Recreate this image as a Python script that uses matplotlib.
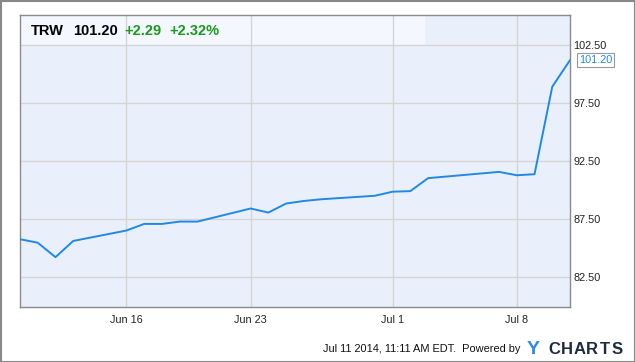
import matplotlib
matplotlib.use("Agg")
import matplotlib.pyplot as plt
from matplotlib.patches import Rectangle
import pandas as pd

plt.rcParams['font.family'] = ['Liberation Sans', 'DejaVu Sans']

dates = ["2014-06-10", "2014-06-11", "2014-06-12", "2014-06-13", "2014-06-16",
         "2014-06-17", "2014-06-18", "2014-06-19", "2014-06-20", "2014-06-23",
         "2014-06-24", "2014-06-25", "2014-06-26", "2014-06-27", "2014-06-30",
         "2014-07-01", "2014-07-02", "2014-07-03", "2014-07-07", "2014-07-08",
         "2014-07-09", "2014-07-10", "2014-07-11"]
prices = [85.75, 85.45, 84.20, 85.60, 86.50,
          87.07, 87.07, 87.27, 87.27, 88.40,
          88.05, 88.83, 89.05, 89.20, 89.50,
          89.85, 89.90, 91.02, 91.56, 91.27,
          91.36, 98.91, 101.20]
ytick_vals = [82.5, 87.5, 92.5, 97.5, 102.5]
xtick_dates = ["2014-06-16", "2014-06-23", "2014-07-01", "2014-07-08"]
xtick_labels = ["Jun 16", "Jun 23", "Jul 1", "Jul 8"]
ticker = "TRW"
last_price = "101.20"
change = "+2.29"
change_pct = "+2.32%"
footer = "Jul 11 2014, 11:11 AM EDT.  Powered by"
logo_rest = "CHARTS"

x = pd.to_datetime(dates)

fig = plt.figure(figsize=(6.35, 3.62), dpi=100)
fig.patch.set_facecolor('white')
ax = fig.add_axes([20/635, 1-307/362, 550/635, 292/362])
ax.set_facecolor('#eaf0fb')

ax.plot(x, prices, color='#1f88e8', lw=1.4, zorder=3)

ax.set_xlim(pd.Timestamp("2014-06-10"), pd.Timestamp("2014-07-11"))
ax.set_ylim(79.9, 105.1)

ax.set_xticks(pd.to_datetime(xtick_dates))
ax.set_xticklabels(xtick_labels)
ax.set_yticks(ytick_vals)
ax.set_yticklabels([f"{v:.2f}" for v in ytick_vals])
ax.yaxis.tick_right()
ax.tick_params(axis='both', length=0, labelsize=7.8, colors='#222222')
ax.tick_params(axis='y', pad=2.5)
ax.tick_params(axis='x', pad=6)
ax.grid(True, color='#d4d4d4', lw=1, zorder=1)
ax.set_axisbelow(True)
for s in ax.spines.values():
    s.set_color('#8a8a8a')
    s.set_linewidth(1)

# header band (under the grid)
ax.add_patch(Rectangle((0, 1-30/292), 405/550, 30/292, transform=ax.transAxes,
                       facecolor='#f4f7fd', edgecolor='none', zorder=0.2))
ty = 1-35/362
fig.text(31/635, ty, ticker, fontsize=10.5, fontweight='bold', color='black')
fig.text(73/635, ty, last_price, fontsize=10.5, fontweight='bold', color='black')
fig.text(124/635, ty, change, fontsize=10.5, fontweight='bold', color='#1a9a1a')
fig.text(169/635, ty, change_pct, fontsize=10.5, fontweight='bold', color='#1a9a1a')

# last price label
ax.annotate(last_price, xy=(x[-1], prices[-1]), xycoords='data',
            xytext=(6.5, 0), textcoords='offset points', va='center', ha='left',
            fontsize=7.8, color='#1f88e8', annotation_clip=False, zorder=5,
            bbox=dict(boxstyle='square,pad=0.2', fc='white', ec='#999999', lw=0.8))

# footer
fy = 1-349/362
fig.text(520/635, fy, footer, fontsize=7.9, color='#111111', ha='right', va='center')
fig.text(533/635, fy, "Y", fontsize=14, fontweight='bold', color='#2a8be8',
         va='center', ha='center')
for i, ch in enumerate(logo_rest):
    fig.text((554 + i*12.6)/635, fy, ch, fontsize=12, fontweight='bold', color='#1c2a44',
             va='center', ha='center')

# outer border
fig.add_artist(Rectangle((0.5/635, 0.5/362), 634/635, 361/362, transform=fig.transFigure,
                         fill=False, edgecolor='#888888', lw=1.5))

fig.savefig("out.png", dpi=100)
